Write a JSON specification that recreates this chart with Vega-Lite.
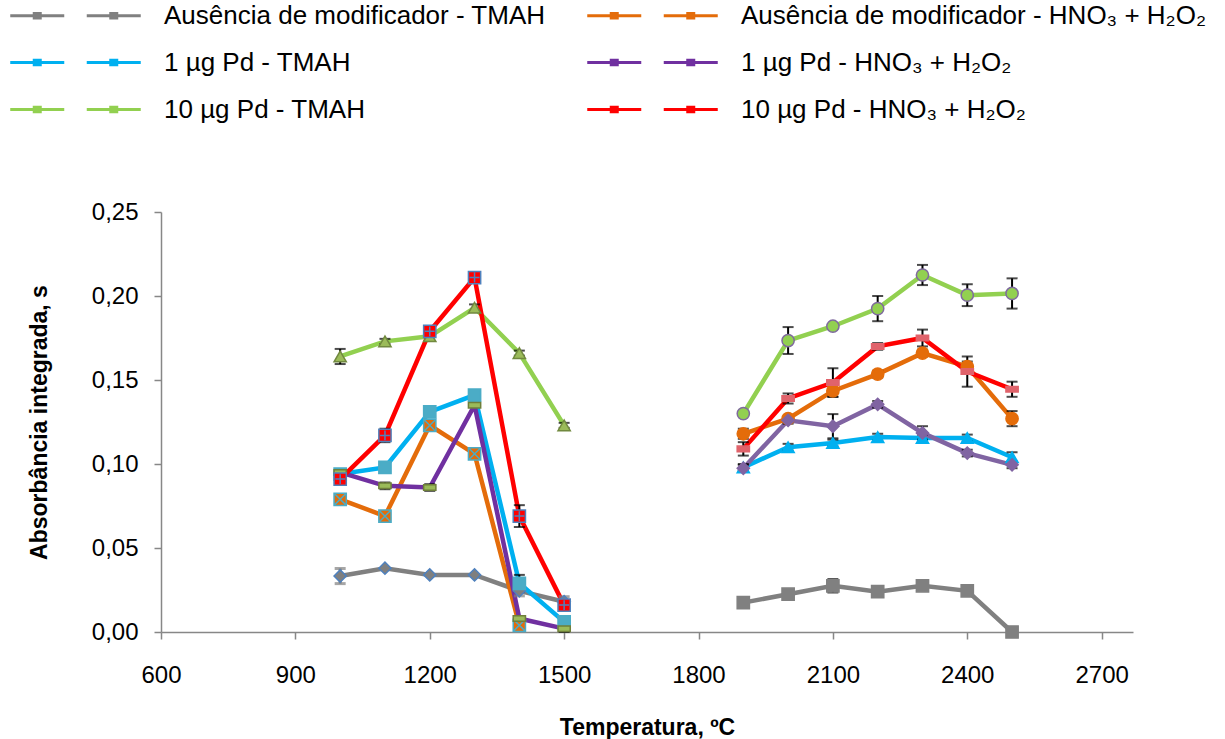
{
  "$schema": "https://vega.github.io/schema/vega-lite/v6.json",
  "width": 972,
  "height": 420,
  "autosize": {"type": "none"},
  "padding": {"left": 161, "top": 212, "right": 92, "bottom": 107},
  "background": "white",
  "config": {"view": {"stroke": null}, "font": "Liberation Sans"},
  "data": {"values": [
    {"serie": "Ausência de modificador - TMAH (pirólise)", "T": 1000, "A": 0.0333, "err": 0.0045},
    {"serie": "Ausência de modificador - TMAH (pirólise)", "T": 1100, "A": 0.038, "err": 0},
    {"serie": "Ausência de modificador - TMAH (pirólise)", "T": 1200, "A": 0.034, "err": 0},
    {"serie": "Ausência de modificador - TMAH (pirólise)", "T": 1300, "A": 0.034, "err": 0},
    {"serie": "Ausência de modificador - TMAH (pirólise)", "T": 1400, "A": 0.0245, "err": 0.003},
    {"serie": "Ausência de modificador - TMAH (pirólise)", "T": 1500, "A": 0.018, "err": 0.003},
    {"serie": "1 µg Pd - TMAH (pirólise)", "T": 1000, "A": 0.094, "err": 0},
    {"serie": "1 µg Pd - TMAH (pirólise)", "T": 1100, "A": 0.098, "err": 0},
    {"serie": "1 µg Pd - TMAH (pirólise)", "T": 1200, "A": 0.131, "err": 0},
    {"serie": "1 µg Pd - TMAH (pirólise)", "T": 1300, "A": 0.141, "err": 0},
    {"serie": "1 µg Pd - TMAH (pirólise)", "T": 1400, "A": 0.029, "err": 0.005},
    {"serie": "1 µg Pd - TMAH (pirólise)", "T": 1500, "A": 0.006, "err": 0},
    {"serie": "10 µg Pd - TMAH (pirólise)", "T": 1000, "A": 0.164, "err": 0.0045},
    {"serie": "10 µg Pd - TMAH (pirólise)", "T": 1100, "A": 0.173, "err": 0.0015},
    {"serie": "10 µg Pd - TMAH (pirólise)", "T": 1200, "A": 0.176, "err": 0},
    {"serie": "10 µg Pd - TMAH (pirólise)", "T": 1300, "A": 0.193, "err": 0.002},
    {"serie": "10 µg Pd - TMAH (pirólise)", "T": 1400, "A": 0.166, "err": 0.0015},
    {"serie": "10 µg Pd - TMAH (pirólise)", "T": 1500, "A": 0.123, "err": 0.0015},
    {"serie": "Ausência de modificador - HNO₃ + H₂O₂ (pirólise)", "T": 1000, "A": 0.079, "err": 0.002},
    {"serie": "Ausência de modificador - HNO₃ + H₂O₂ (pirólise)", "T": 1100, "A": 0.069, "err": 0.002},
    {"serie": "Ausência de modificador - HNO₃ + H₂O₂ (pirólise)", "T": 1200, "A": 0.123, "err": 0.002},
    {"serie": "Ausência de modificador - HNO₃ + H₂O₂ (pirólise)", "T": 1300, "A": 0.106, "err": 0.003},
    {"serie": "Ausência de modificador - HNO₃ + H₂O₂ (pirólise)", "T": 1400, "A": 0.004, "err": 0.002},
    {"serie": "1 µg Pd - HNO₃ + H₂O₂ (pirólise)", "T": 1000, "A": 0.095, "err": 0},
    {"serie": "1 µg Pd - HNO₃ + H₂O₂ (pirólise)", "T": 1100, "A": 0.087, "err": 0.002},
    {"serie": "1 µg Pd - HNO₃ + H₂O₂ (pirólise)", "T": 1200, "A": 0.086, "err": 0.002},
    {"serie": "1 µg Pd - HNO₃ + H₂O₂ (pirólise)", "T": 1300, "A": 0.135, "err": 0},
    {"serie": "1 µg Pd - HNO₃ + H₂O₂ (pirólise)", "T": 1400, "A": 0.008, "err": 0},
    {"serie": "1 µg Pd - HNO₃ + H₂O₂ (pirólise)", "T": 1500, "A": 0.002, "err": 0.002},
    {"serie": "10 µg Pd - HNO₃ + H₂O₂ (pirólise)", "T": 1000, "A": 0.091, "err": 0},
    {"serie": "10 µg Pd - HNO₃ + H₂O₂ (pirólise)", "T": 1100, "A": 0.117, "err": 0.004},
    {"serie": "10 µg Pd - HNO₃ + H₂O₂ (pirólise)", "T": 1200, "A": 0.179, "err": 0.002},
    {"serie": "10 µg Pd - HNO₃ + H₂O₂ (pirólise)", "T": 1300, "A": 0.211, "err": 0.002},
    {"serie": "10 µg Pd - HNO₃ + H₂O₂ (pirólise)", "T": 1400, "A": 0.069, "err": 0.0065},
    {"serie": "10 µg Pd - HNO₃ + H₂O₂ (pirólise)", "T": 1500, "A": 0.016, "err": 0.003},
    {"serie": "Ausência de modificador - TMAH (atomização)", "T": 1900, "A": 0.0175, "err": 0.002},
    {"serie": "Ausência de modificador - TMAH (atomização)", "T": 2000, "A": 0.0225, "err": 0},
    {"serie": "Ausência de modificador - TMAH (atomização)", "T": 2100, "A": 0.0275, "err": 0.004},
    {"serie": "Ausência de modificador - TMAH (atomização)", "T": 2200, "A": 0.024, "err": 0},
    {"serie": "Ausência de modificador - TMAH (atomização)", "T": 2300, "A": 0.0275, "err": 0.002},
    {"serie": "Ausência de modificador - TMAH (atomização)", "T": 2400, "A": 0.0245, "err": 0},
    {"serie": "Ausência de modificador - TMAH (atomização)", "T": 2500, "A": 0.0, "err": 0},
    {"serie": "1 µg Pd - TMAH (atomização)", "T": 1900, "A": 0.098, "err": 0.002},
    {"serie": "1 µg Pd - TMAH (atomização)", "T": 2000, "A": 0.110, "err": 0.002},
    {"serie": "1 µg Pd - TMAH (atomização)", "T": 2100, "A": 0.1125, "err": 0.002},
    {"serie": "1 µg Pd - TMAH (atomização)", "T": 2200, "A": 0.116, "err": 0.002},
    {"serie": "1 µg Pd - TMAH (atomização)", "T": 2300, "A": 0.1155, "err": 0.002},
    {"serie": "1 µg Pd - TMAH (atomização)", "T": 2400, "A": 0.1155, "err": 0.002},
    {"serie": "1 µg Pd - TMAH (atomização)", "T": 2500, "A": 0.104, "err": 0.003},
    {"serie": "10 µg Pd - TMAH (atomização)", "T": 1900, "A": 0.130, "err": 0},
    {"serie": "10 µg Pd - TMAH (atomização)", "T": 2000, "A": 0.1735, "err": 0.008},
    {"serie": "10 µg Pd - TMAH (atomização)", "T": 2100, "A": 0.182, "err": 0},
    {"serie": "10 µg Pd - TMAH (atomização)", "T": 2200, "A": 0.1925, "err": 0.0075},
    {"serie": "10 µg Pd - TMAH (atomização)", "T": 2300, "A": 0.2125, "err": 0.006},
    {"serie": "10 µg Pd - TMAH (atomização)", "T": 2400, "A": 0.2005, "err": 0.0065},
    {"serie": "10 µg Pd - TMAH (atomização)", "T": 2500, "A": 0.2015, "err": 0.009},
    {"serie": "Ausência de modificador - HNO₃ + H₂O₂ (atomização)", "T": 1900, "A": 0.118, "err": 0.003},
    {"serie": "Ausência de modificador - HNO₃ + H₂O₂ (atomização)", "T": 2000, "A": 0.127, "err": 0},
    {"serie": "Ausência de modificador - HNO₃ + H₂O₂ (atomização)", "T": 2100, "A": 0.1435, "err": 0.0035},
    {"serie": "Ausência de modificador - HNO₃ + H₂O₂ (atomização)", "T": 2200, "A": 0.1535, "err": 0.002},
    {"serie": "Ausência de modificador - HNO₃ + H₂O₂ (atomização)", "T": 2300, "A": 0.166, "err": 0.002},
    {"serie": "Ausência de modificador - HNO₃ + H₂O₂ (atomização)", "T": 2400, "A": 0.158, "err": 0.003},
    {"serie": "Ausência de modificador - HNO₃ + H₂O₂ (atomização)", "T": 2500, "A": 0.127, "err": 0.0045},
    {"serie": "1 µg Pd - HNO₃ + H₂O₂ (atomização)", "T": 1900, "A": 0.0975, "err": 0.002},
    {"serie": "1 µg Pd - HNO₃ + H₂O₂ (atomização)", "T": 2000, "A": 0.126, "err": 0.002},
    {"serie": "1 µg Pd - HNO₃ + H₂O₂ (atomização)", "T": 2100, "A": 0.1225, "err": 0.0072},
    {"serie": "1 µg Pd - HNO₃ + H₂O₂ (atomização)", "T": 2200, "A": 0.1355, "err": 0.002},
    {"serie": "1 µg Pd - HNO₃ + H₂O₂ (atomização)", "T": 2300, "A": 0.1185, "err": 0.004},
    {"serie": "1 µg Pd - HNO₃ + H₂O₂ (atomização)", "T": 2400, "A": 0.1065, "err": 0.002},
    {"serie": "1 µg Pd - HNO₃ + H₂O₂ (atomização)", "T": 2500, "A": 0.0995, "err": 0.002},
    {"serie": "10 µg Pd - HNO₃ + H₂O₂ (atomização)", "T": 1900, "A": 0.109, "err": 0.004},
    {"serie": "10 µg Pd - HNO₃ + H₂O₂ (atomização)", "T": 2000, "A": 0.139, "err": 0.003},
    {"serie": "10 µg Pd - HNO₃ + H₂O₂ (atomização)", "T": 2100, "A": 0.1485, "err": 0.0085},
    {"serie": "10 µg Pd - HNO₃ + H₂O₂ (atomização)", "T": 2200, "A": 0.170, "err": 0.002},
    {"serie": "10 µg Pd - HNO₃ + H₂O₂ (atomização)", "T": 2300, "A": 0.175, "err": 0.005},
    {"serie": "10 µg Pd - HNO₃ + H₂O₂ (atomização)", "T": 2400, "A": 0.155, "err": 0.009},
    {"serie": "10 µg Pd - HNO₃ + H₂O₂ (atomização)", "T": 2500, "A": 0.1445, "err": 0.0045}
  ]},
  "encoding": {
    "x": {"field": "T", "type": "quantitative",
      "scale": {"domain": [600, 2770], "nice": false, "zero": false},
      "axis": {"title": "Temperatura, ºC", "values": [600, 900, 1200, 1500, 1800, 2100, 2400, 2700], "format": "d",
        "grid": false, "tickSize": 7, "tickWidth": 1.5, "domainWidth": 1.5, "domainColor": "#878787", "tickColor": "#878787",
        "labelFont": "Liberation Sans", "labelFontSize": 24, "labelColor": "black", "labelPadding": 24, "labelFlush": false, "labelOverlap": false,
        "titleFont": "Liberation Sans", "titleFontSize": 23, "titleFontWeight": "bold", "titleColor": "black", "titlePadding": 29}},
    "y": {"field": "A", "type": "quantitative",
      "scale": {"domain": [0, 0.25], "nice": false},
      "axis": {"title": "Absorbância integrada, s", "values": [0, 0.05, 0.1, 0.15, 0.2, 0.25],
        "labelExpr": "replace(format(datum.value, '.2f'), '.', ',')",
        "grid": false, "tickSize": 7, "tickWidth": 1.5, "domainWidth": 1.5, "domainColor": "#878787", "tickColor": "#878787",
        "labelFont": "Liberation Sans", "labelFontSize": 24, "labelColor": "black", "labelPadding": 16, "labelOverlap": false,
        "titleFont": "Liberation Sans", "titleFontSize": 23, "titleFontWeight": "bold", "titleColor": "black", "titlePadding": 40}}
  },
  "layer": [
    {
      "mark": {"type": "line", "strokeWidth": 4.5},
      "encoding": {
        "color": {"field": "serie", "type": "nominal",
          "scale": {
            "domain": [
              "Ausência de modificador - TMAH (pirólise)",
              "Ausência de modificador - HNO₃ + H₂O₂ (pirólise)",
              "1 µg Pd - TMAH (pirólise)",
              "1 µg Pd - HNO₃ + H₂O₂ (pirólise)",
              "10 µg Pd - TMAH (pirólise)",
              "10 µg Pd - HNO₃ + H₂O₂ (pirólise)",
              "Ausência de modificador - TMAH (atomização)",
              "Ausência de modificador - HNO₃ + H₂O₂ (atomização)",
              "1 µg Pd - TMAH (atomização)",
              "1 µg Pd - HNO₃ + H₂O₂ (atomização)",
              "10 µg Pd - TMAH (atomização)",
              "10 µg Pd - HNO₃ + H₂O₂ (atomização)"
            ],
            "range": ["#808080", "#E46C0A", "#00B0F0", "#7030A0", "#92D050", "#FF0000", "#808080", "#E46C0A", "#00B0F0", "#8064A2", "#92D050", "#FF0000"]
          },
          "legend": {
            "orient": "none", "legendX": -102, "legendY": -213, "columns": 2, "title": null,
            "values": [
              "Ausência de modificador - TMAH (pirólise)",
              "1 µg Pd - TMAH (pirólise)",
              "10 µg Pd - TMAH (pirólise)",
              "Ausência de modificador - HNO₃ + H₂O₂ (pirólise)",
              "1 µg Pd - HNO₃ + H₂O₂ (pirólise)",
              "10 µg Pd - HNO₃ + H₂O₂ (pirólise)"
            ],
            "labelExpr": "replace(datum.label, ' (pirólise)', '')",
            "symbolType": "M-4.35,0H-0.75M0.75,0H4.35M-2.75,-0.15H-2.35V0.15H-2.75ZM2.35,-0.15H2.75V0.15H2.35Z",
            "symbolSize": 900, "symbolStrokeWidth": 3,
            "labelFont": "Liberation Sans", "labelFontSize": 26, "labelColor": "black", "labelLimit": 800,
            "labelOffset": 72, "rowPadding": 17, "columnPadding": 35
          }
        }
      }
    },
    {
      "transform": [{"filter": "datum.err > 0 && datum.serie !== 'Ausência de modificador - TMAH (pirólise)'"}],
      "mark": {"type": "errorbar", "color": "black", "thickness": 2, "ticks": {"size": 11}},
      "encoding": {"yError": {"field": "err"}}
    },
    {
      "transform": [{"filter": "datum.err > 0 && datum.serie === 'Ausência de modificador - TMAH (pirólise)'"}],
      "mark": {"type": "errorbar", "color": "#808080", "thickness": 3, "ticks": {"size": 11}},
      "encoding": {"yError": {"field": "err"}}
    },
    {
      "mark": {"type": "point", "filled": true, "opacity": 1, "strokeWidth": 1.5},
      "encoding": {
        "shape": {"field": "serie", "type": "nominal", "legend": null,
          "scale": {
            "domain": [
              "Ausência de modificador - TMAH (atomização)",
              "Ausência de modificador - HNO₃ + H₂O₂ (atomização)",
              "1 µg Pd - TMAH (atomização)",
              "1 µg Pd - HNO₃ + H₂O₂ (atomização)",
              "10 µg Pd - TMAH (atomização)",
              "10 µg Pd - HNO₃ + H₂O₂ (atomização)",
              "Ausência de modificador - TMAH (pirólise)",
              "Ausência de modificador - HNO₃ + H₂O₂ (pirólise)",
              "1 µg Pd - TMAH (pirólise)",
              "1 µg Pd - HNO₃ + H₂O₂ (pirólise)",
              "10 µg Pd - TMAH (pirólise)",
              "10 µg Pd - HNO₃ + H₂O₂ (pirólise)"
            ],
            "range": ["square", "circle", "triangle-up", "diamond", "circle", "M-1,-0.45H1V0.45H-1Z", "diamond", "M-1,-1H1V1H-1ZM-1,-1L1,1M1,-1L-1,1", "square", "M-1,-0.45H1V0.45H-1Z", "triangle-up", "M-1,-1H1V1H-1ZM0,-0.8V0.8M-0.8,0H0.8"]
          }},
        "fill": {"field": "serie", "type": "nominal", "legend": null,
          "scale": {
            "domain": [
              "Ausência de modificador - TMAH (atomização)",
              "Ausência de modificador - HNO₃ + H₂O₂ (atomização)",
              "1 µg Pd - TMAH (atomização)",
              "1 µg Pd - HNO₃ + H₂O₂ (atomização)",
              "10 µg Pd - TMAH (atomização)",
              "10 µg Pd - HNO₃ + H₂O₂ (atomização)",
              "Ausência de modificador - TMAH (pirólise)",
              "Ausência de modificador - HNO₃ + H₂O₂ (pirólise)",
              "1 µg Pd - TMAH (pirólise)",
              "1 µg Pd - HNO₃ + H₂O₂ (pirólise)",
              "10 µg Pd - TMAH (pirólise)",
              "10 µg Pd - HNO₃ + H₂O₂ (pirólise)"
            ],
            "range": ["#808080", "#E46C0A", "#00B0F0", "#8064A2", "#92D050", "#E0636B", "#7F7F7F", "#E46C0A", "#4BACC6", "#9BBB59", "#9BBB59", "#FF0000"]
          }},
        "stroke": {"field": "serie", "type": "nominal", "legend": null,
          "scale": {
            "domain": [
              "Ausência de modificador - TMAH (atomização)",
              "Ausência de modificador - HNO₃ + H₂O₂ (atomização)",
              "1 µg Pd - TMAH (atomização)",
              "1 µg Pd - HNO₃ + H₂O₂ (atomização)",
              "10 µg Pd - TMAH (atomização)",
              "10 µg Pd - HNO₃ + H₂O₂ (atomização)",
              "Ausência de modificador - TMAH (pirólise)",
              "Ausência de modificador - HNO₃ + H₂O₂ (pirólise)",
              "1 µg Pd - TMAH (pirólise)",
              "1 µg Pd - HNO₃ + H₂O₂ (pirólise)",
              "10 µg Pd - TMAH (pirólise)",
              "10 µg Pd - HNO₃ + H₂O₂ (pirólise)"
            ],
            "range": ["#808080", "#E46C0A", "#00B0F0", "#8064A2", "#7F6A9E", "#E0636B", "#4F81BD", "#4BACC6", "#4BACC6", "#6E7F3A", "#71893F", "#4F81BD"]
          }},
        "size": {"field": "serie", "type": "ordinal", "legend": null,
          "scale": {
            "domain": [
              "Ausência de modificador - TMAH (atomização)",
              "Ausência de modificador - HNO₃ + H₂O₂ (atomização)",
              "1 µg Pd - TMAH (atomização)",
              "1 µg Pd - HNO₃ + H₂O₂ (atomização)",
              "10 µg Pd - TMAH (atomização)",
              "10 µg Pd - HNO₃ + H₂O₂ (atomização)",
              "Ausência de modificador - TMAH (pirólise)",
              "Ausência de modificador - HNO₃ + H₂O₂ (pirólise)",
              "1 µg Pd - TMAH (pirólise)",
              "1 µg Pd - HNO₃ + H₂O₂ (pirólise)",
              "10 µg Pd - TMAH (pirólise)",
              "10 µg Pd - HNO₃ + H₂O₂ (pirólise)"
            ],
            "range": [150, 150, 160, 150, 130, 50, 80, 110, 150, 70, 130, 120]
          }}
      }
    }
  ]
}
